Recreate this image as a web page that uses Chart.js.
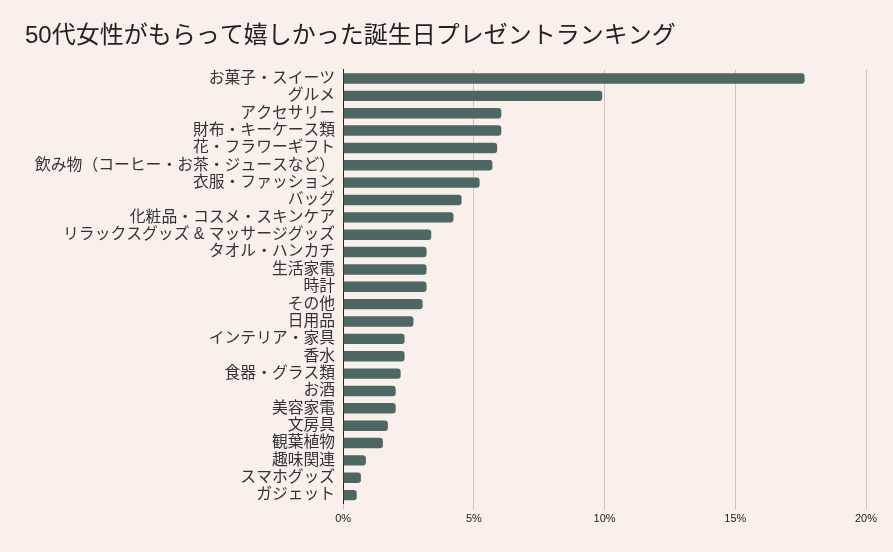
<!DOCTYPE html>
<html lang="ja">
<head>
<meta charset="utf-8">
<title>50代女性がもらって嬉しかった誕生日プレゼントランキング</title>
<script src="https://cdn.jsdelivr.net/npm/chart.js@4/dist/chart.umd.min.js"></script>
<style>
    html, body { margin: 0; padding: 0; background: #f9f0eb; }
    #wrap { width: 893px; height: 552px; position: relative; }
</style>
</head>
<body>
<div id="wrap"><canvas id="rankChart"></canvas></div>
<script>
// Chart data (percent of respondents)
const chartTitle = '50代女性がもらって嬉しかった誕生日プレゼントランキング';
const categories = [
    'お菓子・スイーツ', 'グルメ', 'アクセサリー', '財布・キーケース類', '花・フラワーギフト',
    '飲み物（コーヒー・お茶・ジュースなど）', '衣服・ファッション', 'バッグ', '化粧品・コスメ・スキンケア',
    'リラックスグッズ & マッサージグッズ', 'タオル・ハンカチ', '生活家電', '時計', 'その他', '日用品',
    'インテリア・家具', '香水', '食器・グラス類', 'お酒', '美容家電', '文房具', '観葉植物',
    '趣味関連', 'スマホグッズ', 'ガジェット'
];
const shares = [
    17.65, 9.91, 6.05, 6.05, 5.89,
    5.71, 5.22, 4.53, 4.22,
    3.37, 3.19, 3.19, 3.19, 3.04, 2.69,
    2.35, 2.35, 2.20, 2.01, 2.01, 1.71, 1.52,
    0.87, 0.68, 0.52
];
const xTicks = [0, 5, 10, 15, 20];

const fontFamily = '"Liberation Sans", "Noto Sans CJK JP", sans-serif';

document.addEventListener('DOMContentLoaded', function() {
    createRankChart();
});

function createRankChart() {
    const canvas = document.getElementById('rankChart');

    new Chart(canvas, {
        type: 'bar',
        data: {
            labels: categories,
            datasets: [{
                data: shares,
                backgroundColor: '#4d6762',
                borderRadius: 3,
                categoryPercentage: 0.75,
                barPercentage: 0.8
            }]
        },
        options: {
            indexAxis: 'y',
            responsive: true,
            maintainAspectRatio: false,
            animation: false,
            layout: { padding: { top: 22, left: 25, right: 27, bottom: 23 } },
            plugins: {
                legend: { display: false },
                tooltip: { enabled: false },
                title: {
                    display: true,
                    text: chartTitle,
                    align: 'start',
                    color: '#222',
                    font: { family: fontFamily, size: 24, weight: 'normal' },
                    padding: { top: 0, bottom: 19 }
                }
            },
            scales: {
                x: {
                    min: 0,
                    max: 20,
                    afterBuildTicks: axis => {
                        axis.ticks = xTicks.map(v => ({ value: v }));
                    },
                    grid: { color: '#c6c8cc', tickLength: 6 },
                    border: { display: false },
                    ticks: {
                        color: '#222',
                        font: { family: fontFamily, size: 11 },
                        callback: v => v + '%'
                    }
                },
                y: {
                    // extra room left of the labels so the axis sits where the reference has it
                    afterFit: axis => { axis.width += 10; },
                    grid: { display: false },
                    border: { color: '#222', width: 1 },
                    ticks: {
                        color: '#333',
                        padding: 0,
                        autoSkip: false,
                        font: { family: fontFamily, size: 15.8 }
                    }
                }
            }
        }
    });
}
</script>
</body>
</html>
